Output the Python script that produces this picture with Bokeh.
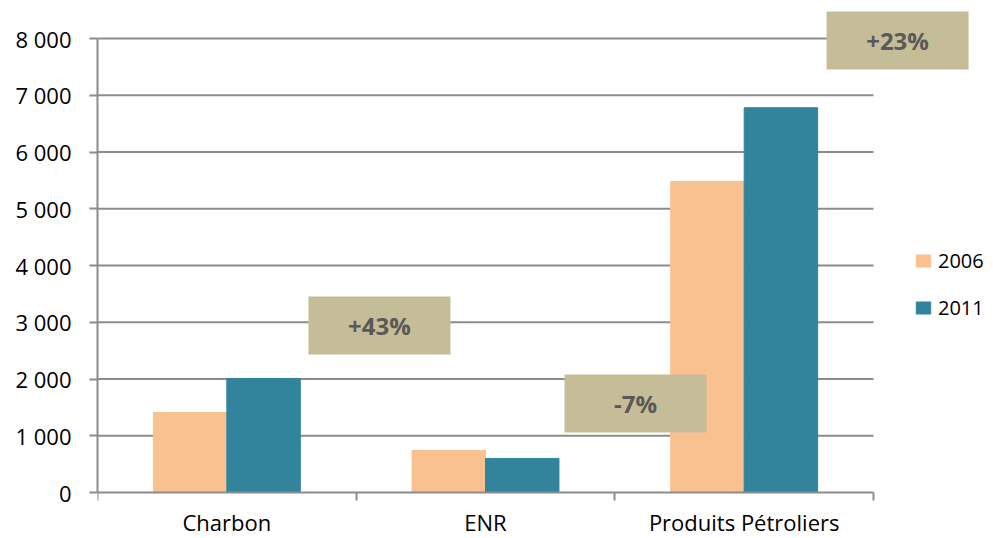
from bokeh.plotting import figure
from bokeh.models import Range1d, FixedTicker, Legend, LegendItem
from bokeh.core.properties import value
from bokeh.embed import file_html
from bokeh.resources import INLINE

# ---------------- data ----------------
categories = ["Charbon", "ENR", "Produits Pétroliers"]
series_names = ["2006", "2011"]
values_2006 = [1410, 740, 5480]
values_2011 = [2010, 600, 6780]
y_ticks = [0, 1000, 2000, 3000, 4000, 5000, 6000, 7000, 8000]
y_tick_labels = ["0", "1 000", "2 000", "3 000", "4 000", "5 000", "6 000", "7 000", "8 000"]
change_labels = ["+43%", "-7%", "+23%"]

# ---------------- layout / style ----------------
W, H = 993, 538
FRAME_LEFT = 97          # canvas px of the value axis
FRAME_BOTTOM = 538       # canvas px of the frame bottom
ZERO_Y = 492             # canvas px where value 0 sits
TOP_Y = 38               # canvas px where 8000 sits
CAT_PX = 258.67          # px per category
px_per_unit = (ZERO_Y - TOP_Y) / y_ticks[-1]
y_start = -(FRAME_BOTTOM - ZERO_Y) / px_per_unit
y_end = y_ticks[-1] + TOP_Y / px_per_unit
x_end = (W - FRAME_LEFT) / CAT_PX

note_x = [1.09, 2.08, 3.093]
note_y = [2943, 1568, 7965]

C2006 = "#F9C090"
C2011 = "#31849B"
NOTE_FILL = "#C4BD97"
NOTE_TEXT = "#595959"
AXIS_COL = "#8C8C8C"
FONT = "Open Sans"
BAR_W = 0.284

n = len(categories)
centers = [i + 0.5 for i in range(n)]

p = figure(width=W, height=H, x_range=Range1d(0, x_end), y_range=Range1d(y_start, y_end),
           output_backend="svg", toolbar_location=None,
           min_border_left=FRAME_LEFT, min_border_right=0, min_border_top=0, min_border_bottom=0)
p.outline_line_color = None
p.background_fill_color = "white"
p.border_fill_color = "white"
p.xgrid.visible = False
p.ygrid.visible = False

# horizontal gridlines, bounded to the category span
p.segment(x0=[0] * (len(y_ticks) - 1), x1=[n] * (len(y_ticks) - 1),
          y0=y_ticks[1:], y1=y_ticks[1:], line_color=AXIS_COL, line_width=2)

# bars
r06 = p.vbar(x=[c - BAR_W / 2 for c in centers], top=values_2006, width=BAR_W,
             fill_color=C2006, line_color=C2006)
r11 = p.vbar(x=[c + BAR_W / 2 for c in centers], top=values_2011, width=BAR_W,
             fill_color=C2011, line_color=C2011)

# change notes
p.rect(x=note_x, y=note_y, width=142, height=58, width_units="screen", height_units="screen",
       fill_color=NOTE_FILL, line_color=None)
p.text(x=note_x, y=note_y, text=change_labels, text_align="center", text_baseline="middle",
       text_font=value(FONT), text_font_style="bold", text_font_size="24px", text_color=NOTE_TEXT)

# category labels
p.text(x=centers, y=[0] * n, text=categories, text_align="center", text_baseline="alphabetic",
       y_offset=29, text_font=value(FONT), text_font_size="22px", text_color="#000000")

# x axis (line + boundary ticks) at value 0
xa = p.xaxis[0]
xa.ticker = FixedTicker(ticks=centers, minor_ticks=list(range(n + 1)))
xa.fixed_location = 0
xa.bounds = (0, n)
xa.major_tick_out = 0
xa.major_tick_in = 0
xa.minor_tick_out = 8
xa.minor_tick_in = 0
xa.minor_tick_line_color = AXIS_COL
xa.minor_tick_line_width = 2
xa.axis_line_color = AXIS_COL
xa.axis_line_width = 2
xa.major_label_overrides = {c: "" for c in centers}
xa.major_label_text_font_size = "1px"
xa.major_label_standoff = 0

# y axis
ya = p.yaxis[0]
ya.ticker = FixedTicker(ticks=y_ticks)
ya.bounds = (y_ticks[0], y_ticks[-1])
ya.major_label_overrides = {t: l for t, l in zip(y_ticks, y_tick_labels)}
ya.major_tick_out = 8
ya.major_tick_in = 0
ya.minor_tick_out = 0
ya.minor_tick_in = 0
ya.major_tick_line_color = AXIS_COL
ya.major_tick_line_width = 2
ya.axis_line_color = AXIS_COL
ya.axis_line_width = 2
ya.major_label_standoff = 18
ya.major_label_text_font = FONT
ya.major_label_text_font_size = "22px"
ya.major_label_text_color = "#000000"

legend = Legend(items=[LegendItem(label=series_names[0], renderers=[r06]),
                       LegendItem(label=series_names[1], renderers=[r11])],
                location=(817, 217), orientation="vertical")
legend.border_line_color = None
legend.background_fill_alpha = 0
legend.padding = 0
legend.margin = 0
legend.spacing = 20
legend.glyph_width = 18
legend.glyph_height = 15
legend.label_standoff = 6
legend.label_text_font = FONT
legend.label_text_font_size = "20px"
legend.label_text_color = "#000000"
p.add_layout(legend)

open("out.html", "w").write(file_html(p, INLINE))
